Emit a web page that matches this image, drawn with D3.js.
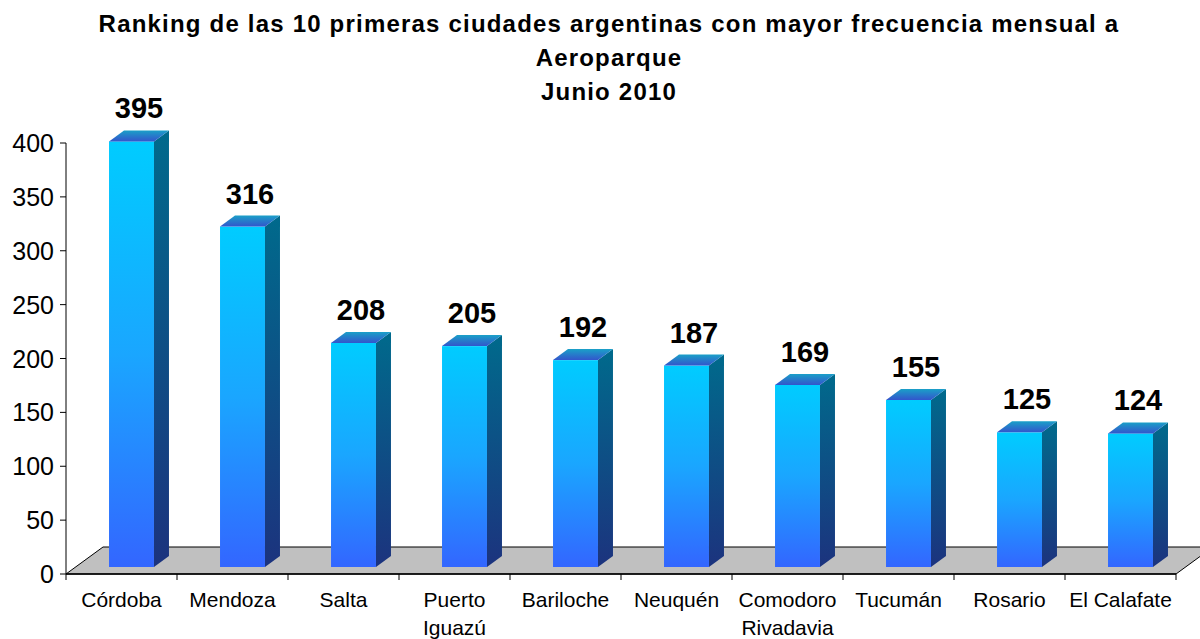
<!DOCTYPE html>
<html>
<head>
<meta charset="utf-8">
<script src="https://cdn.jsdelivr.net/npm/d3@7"></script>
<style>
  body { margin: 0; background: #fff; }
  text { font-family: "Liberation Sans", Arial, sans-serif; fill: #000; }
</style>
</head>
<body>
<script>
// Data
const categories = ["Córdoba", "Mendoza", "Salta", "Puerto\nIguazú", "Bariloche",
    "Neuquén", "Comodoro\nRivadavia", "Tucumán", "Rosario", "El Calafate"];
const values = [395, 316, 208, 205, 192, 187, 169, 155, 125, 124];
const yTicks = [0, 50, 100, 150, 200, 250, 300, 350, 400];
const titleLines = ["Ranking de las 10 primeras ciudades argentinas con mayor frecuencia mensual a",
    "Aeroparque", "Junio 2010"];

const width = 1200, height = 639;

// 3d offsets
const floorDx = 37, floorDy = -27,
    barOx = 10, barOy = -7,
    barDx = 15, barDy = -11;

const svg = d3.select('body').append('svg')
    .attr('width', width)
    .attr('height', height);

const defs = svg.append('defs');

function vGrad(id, stops) {
    let g = defs.append('linearGradient').attr('id', id)
        .attr('x1', 0).attr('y1', 0).attr('x2', 0).attr('y2', 1);
    stops.forEach(s => g.append('stop').attr('offset', s[0]).attr('stop-color', s[1]));
}
vGrad('gFront', [[0, '#00ccff'], [0.5, '#1aa6ff'], [1, '#3366ff']]);
vGrad('gSide', [[0, '#006a8c'], [1, '#1c337e']]);
vGrad('gTop', [[0, '#1aa0c8'], [1, '#3355cc']]);

const x = d3.scaleBand()
    .domain(d3.range(categories.length))
    .range([66, 1176]);

const y = d3.scaleLinear()
    .domain([0, 400])
    .range([574, 143]);

// Floor
const x0 = x.range()[0], x1 = x.range()[1], y0 = y(0);
svg.append('path')
    .attr('d', `M${x0},${y0} L${x0 + floorDx},${y0 + floorDy} L${x1 + floorDx},${y0 + floorDy} L${x1},${y0} Z`)
    .attr('fill', '#c0c0c0')
    .attr('stroke', '#000')
    .attr('stroke-width', 1);

// Y axis
svg.append('line')
    .attr('x1', x0).attr('x2', x0)
    .attr('y1', y(400)).attr('y2', y0)
    .attr('stroke', '#000');

const yt = svg.append('g').selectAll('g')
    .data(yTicks).enter().append('g')
    .attr('transform', d => 'translate(0,' + y(d) + ')');
yt.append('line')
    .attr('x1', x0 - 6).attr('x2', x0)
    .attr('stroke', '#000');
yt.append('text')
    .attr('x', x0 - 12)
    .attr('dy', '0.36em')
    .attr('text-anchor', 'end')
    .attr('font-size', 25)
    .text(d => d);

// X axis
svg.append('line')
    .attr('x1', x0).attr('x2', x1)
    .attr('y1', y0).attr('y2', y0)
    .attr('stroke', '#000').attr('stroke-width', 1.5);

svg.append('g').selectAll('line')
    .data(d3.range(categories.length + 1)).enter().append('line')
    .attr('x1', i => x0 + i * x.bandwidth())
    .attr('x2', i => x0 + i * x.bandwidth())
    .attr('y1', y0).attr('y2', y0 + 6)
    .attr('stroke', '#000');

const labels = svg.append('g').selectAll('text')
    .data(categories).enter().append('text')
    .attr('font-size', 21)
    .attr('text-anchor', 'middle')
    .attr('transform', (d, i) => 'translate(' + (x(i) + x.bandwidth() / 2) + ',607)');
labels.selectAll('tspan')
    .data(d => d.split('\n')).enter().append('tspan')
    .attr('x', 0)
    .attr('y', (d, j) => j * 28)
    .text(d => d);

// Bars
const bw = x.bandwidth() * 0.405;
const bars = svg.append('g').selectAll('g')
    .data(values).enter().append('g');

function geom(d, i) {
    let left = x(i) + x.bandwidth() / 2 - bw / 2 + barOx;
    let top = y(d) + barOy;
    let bottom = y(0) + barOy;
    return {left, top, bottom, right: left + bw};
}

bars.append('rect')
    .attr('x', (d, i) => geom(d, i).left)
    .attr('y', (d, i) => geom(d, i).top)
    .attr('width', bw)
    .attr('height', (d, i) => geom(d, i).bottom - geom(d, i).top)
    .attr('fill', 'url(#gFront)');

bars.append('path')
    .attr('d', (d, i) => {
        let g = geom(d, i);
        return `M${g.right},${g.top} L${g.right + barDx},${g.top + barDy} L${g.right + barDx},${g.bottom + barDy} L${g.right},${g.bottom} Z`;
    })
    .attr('fill', 'url(#gSide)');

bars.append('path')
    .attr('d', (d, i) => {
        let g = geom(d, i);
        return `M${g.left},${g.top} L${g.left + barDx},${g.top + barDy} L${g.right + barDx},${g.top + barDy} L${g.right},${g.top} Z`;
    })
    .attr('fill', 'url(#gTop)');

bars.append('text')
    .attr('x', (d, i) => geom(d, i).left + bw / 2 + barDx / 2)
    .attr('y', (d, i) => geom(d, i).top + barDy - 12)
    .attr('text-anchor', 'middle')
    .attr('font-size', 29)
    .attr('font-weight', 'bold')
    .text(d => d);

// Title
svg.append('g').selectAll('text')
    .data(titleLines).enter().append('text')
    .attr('x', 609)
    .attr('y', (d, i) => 32 + i * 34)
    .attr('text-anchor', 'middle')
    .attr('font-size', 24)
    .attr('font-weight', 'bold')
    .style('letter-spacing', '1.2px')
    .text(d => d);
</script>
</body>
</html>
